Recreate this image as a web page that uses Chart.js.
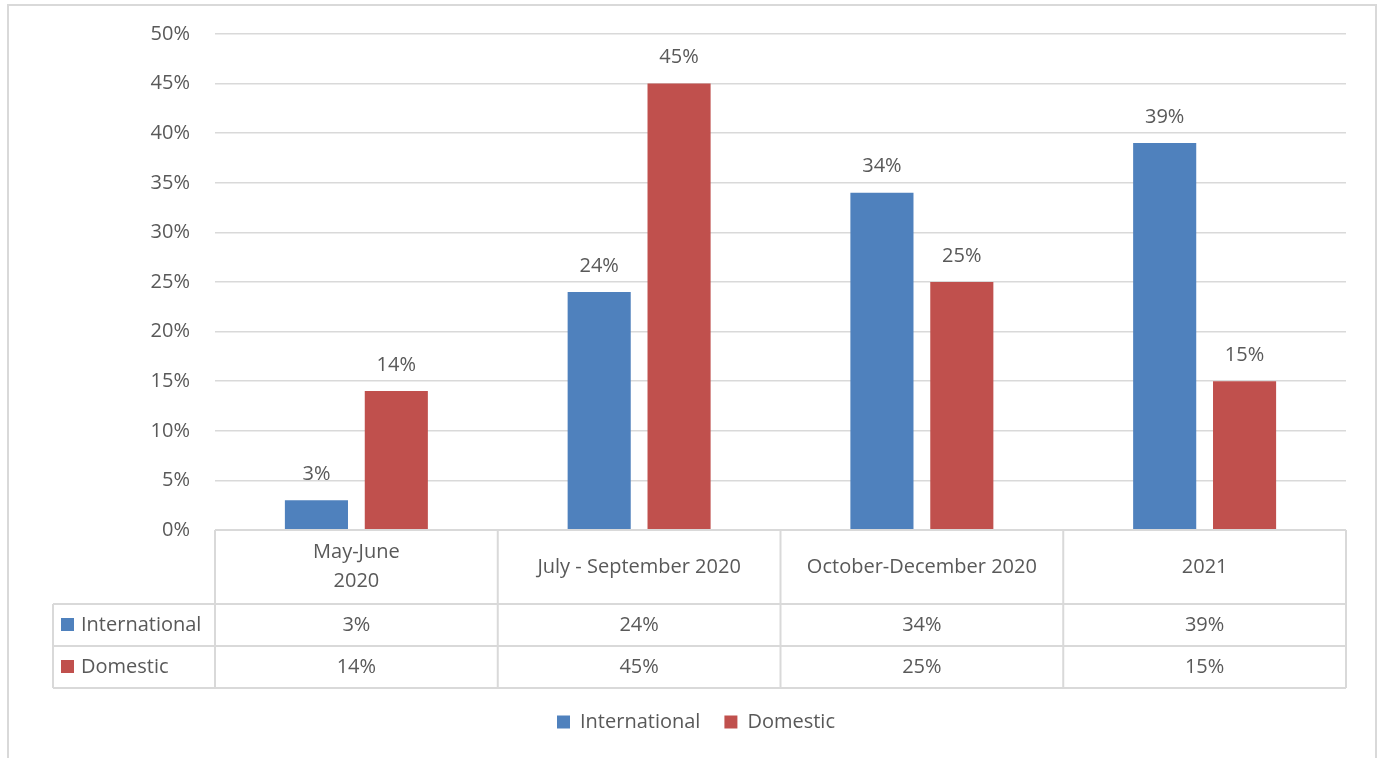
<!DOCTYPE html>
<html lang="en">
<head>
<meta charset="UTF-8">
<title>International vs Domestic</title>
<script src="https://cdn.jsdelivr.net/npm/chart.js@4.4.0/dist/chart.umd.min.js"></script>
<style>
  html, body { margin: 0; padding: 0; background: #fff; }
  #wrap { width: 1379px; height: 758px; }
</style>
</head>
<body>
<div id="wrap"><canvas id="myChart" width="1379" height="758"></canvas></div>
<script>
// data
var categories = [['May-June', '2020'], 'July - September 2020', 'October-December 2020', '2021'];
var seriesNames = ['International', 'Domestic'];
var international = [3, 24, 34, 39];
var domestic = [14, 45, 25, 15];
var colors = ['#4f81bd', '#c0504d'];

var textColor = '#595959';
var lineColor = '#d9d9d9';
var fontFamily = "'Open Sans', 'Noto Sans', sans-serif";
var fontSize = 20;

Chart.defaults.font.family = fontFamily;
Chart.defaults.font.size = fontSize;
Chart.defaults.color = textColor;

function pct(v) { return v + '%'; }

// draws the outer frame, value labels and the data table under the bars
var tablePlugin = {
  id: 'dataTable',
  beforeDraw: function(chart) {
    var ctx = chart.ctx;
    ctx.save();
    ctx.strokeStyle = lineColor;
    ctx.lineWidth = 2;
    ctx.strokeRect(8, 5, 1368, 800);
    ctx.restore();
  },
  afterDatasetsDraw: function(chart) {
    var ctx = chart.ctx;
    ctx.save();
    ctx.fillStyle = textColor;
    ctx.font = fontSize + 'px ' + fontFamily;
    ctx.textAlign = 'center';
    ctx.textBaseline = 'middle';
    chart.data.datasets.forEach(function(ds, di) {
      chart.getDatasetMeta(di).data.forEach(function(bar, i) {
        ctx.fillText(pct(ds.data[i]), bar.x, bar.y - 26);
      });
    });
    ctx.restore();
  },
  afterDraw: function(chart) {
    var ctx = chart.ctx;
    var x = chart.scales.x;
    var top = chart.chartArea.bottom;
    var n = categories.length;
    var cw = (x.right - x.left) / n;
    var headH = 74, rowH = 42, leftX = 53;
    var bottom = top + headH + rowH * 2;

    ctx.save();
    ctx.strokeStyle = lineColor;
    ctx.lineWidth = 2;
    ctx.beginPath();
    ctx.moveTo(x.left, top); ctx.lineTo(x.right, top);
    for (var r = 1; r <= 3; r++) {
      var yy = top + headH + rowH * (r - 1);
      ctx.moveTo(leftX, yy); ctx.lineTo(x.right, yy);
    }
    for (var i = 0; i <= n; i++) {
      ctx.moveTo(x.left + i * cw, top); ctx.lineTo(x.left + i * cw, bottom);
    }
    ctx.moveTo(leftX, top + headH); ctx.lineTo(leftX, bottom);
    ctx.stroke();

    ctx.fillStyle = textColor;
    ctx.font = fontSize + 'px ' + fontFamily;
    ctx.textBaseline = 'middle';
    ctx.textAlign = 'center';
    categories.forEach(function(c, i) {
      var lines = Array.isArray(c) ? c : [c];
      var cx = x.getPixelForValue(i);
      var cy = top + headH / 2 - (lines.length - 1) * 14.5;
      lines.forEach(function(l, k) { ctx.fillText(l, cx, cy + k * 29); });
    });

    chart.data.datasets.forEach(function(ds, di) {
      var cy = top + headH + rowH * di + rowH / 2;
      ctx.textAlign = 'center';
      ctx.fillStyle = textColor;
      ds.data.forEach(function(v, i) {
        ctx.fillText(pct(v), x.getPixelForValue(i), cy);
      });
      ctx.fillStyle = ds.backgroundColor;
      ctx.fillRect(leftX + 8, cy - 7, 13, 13);
      ctx.fillStyle = textColor;
      ctx.textAlign = 'left';
      ctx.fillText(ds.label, leftX + 28, cy);
    });
    ctx.restore();
  }
};

new Chart(document.getElementById('myChart'), {
  type: 'bar',
  data: {
    labels: categories,
    datasets: [
      { label: seriesNames[0], data: international, backgroundColor: colors[0] },
      { label: seriesNames[1], data: domestic, backgroundColor: colors[1] }
    ]
  },
  options: {
    responsive: false,
    animation: false,
    categoryPercentage: 0.565,
    barPercentage: 0.79,
    layout: { padding: { top: 34, right: 33, left: 46, bottom: 16 } },
    plugins: {
      legend: {
        position: 'bottom',
        labels: { boxWidth: 13, boxHeight: 13, padding: 24, color: textColor, font: { size: fontSize } }
      },
      tooltip: { enabled: false }
    },
    scales: {
      x: {
        grid: { display: false },
        border: { display: false },
        ticks: { display: false },
        afterFit: function(axis) { axis.height = 158; }
      },
      y: {
        min: 0,
        max: 50,
        ticks: {
          stepSize: 5,
          padding: 25,
          font: { size: fontSize, lineHeight: 0.8 },
          callback: function(v) { return v + '%'; }
        },
        grid: { color: lineColor, lineWidth: 1.5, drawTicks: false },
        border: { display: false },
        afterFit: function(axis) { axis.width = 169; }
      }
    }
  },
  plugins: [tablePlugin]
});
</script>
</body>
</html>
